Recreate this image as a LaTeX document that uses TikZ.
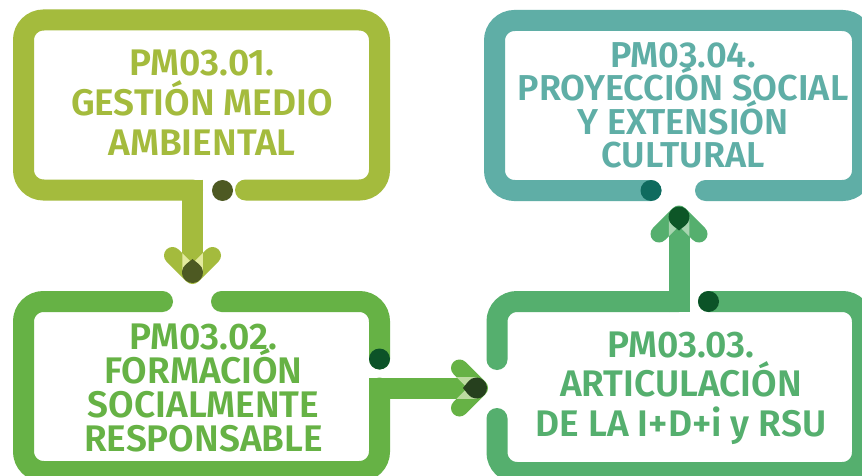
\documentclass[tikz,border=0pt]{standalone}
\usepackage{fontspec}
\setmainfont{Fira Sans}[BoldFont={Fira Sans SemiBold}]
\usetikzlibrary{calc}
\definecolor{cA}{HTML}{A4BB3D}
\definecolor{cAd}{HTML}{4D5922}
\definecolor{cAp}{HTML}{E3EA9E}
\definecolor{cB}{HTML}{66B245}
\definecolor{cBd}{HTML}{0C5328}
\definecolor{cBt}{HTML}{26401E}
\definecolor{cBp}{HTML}{BCDCA0}
\definecolor{cC}{HTML}{55AF6E}
\definecolor{cCd}{HTML}{0B5327}
\definecolor{cCt}{HTML}{0D5627}
\definecolor{cCp}{HTML}{A8D5B0}
\definecolor{cD}{HTML}{5FAEA6}
\definecolor{cDd}{HTML}{0F6B5F}
\tikzset{
  boxline/.style={line width=21pt, line cap=round, line join=miter, rounded corners=20pt},
  connline/.style={line width=21pt, line cap=butt},
  armline/.style={line width=17pt, line cap=round, line join=round},
  boxtext/.style 2 args={align=center, inner sep=0pt, font={\fontsize{#1}{#2}\selectfont\bfseries\lineskiplimit=-50pt}},
}
% #1 centre, #2 rotation, #3 arm colour, #4 pale colour, #5 tip colour
\newcommand{\chevarrow}[5]{%
  \begin{scope}[shift={#1}, rotate=#2]
    \draw[armline, #3] (-20,-17) -- (0,3) -- (20,-17);
    \begin{scope}
      \clip (-10.25,-40) rectangle (10.25,0);
      \draw[armline, #4] (-20,-17) -- (0,3) -- (20,-17);
    \end{scope}
    \fill[#5] (0,-13.5) -- (-51.1:10.5) arc[start angle=-51.1, end angle=231.1, radius=10.5] -- cycle;
  \end{scope}}
\begin{document}
\begin{tikzpicture}[x=1pt, y=1pt, yscale=-1]
\useasboundingbox (0,0) rectangle (862,476);
\clip (0,0) rectangle (862,476);
\fill[white] (0,0) rectangle (862,476);

% named points
\coordinate (t1) at (192.5,272.5);
\coordinate (t2) at (476.5,388);
\coordinate (t3) at (679,217);
\coordinate (e1) at (192.5,260.5);
\coordinate (e2) at (464.5,388);
\coordinate (e3) at (679,229);
\coordinate (s1) at (192.5,179.5);
\coordinate (s2) at (369,388);
\coordinate (s3) at (679,312);

% Box 1
\draw[boxline, cA] (245.5,190) -- (379.5,190) -- (379.5,20) -- (23.5,20) -- (23.5,190) -- (192.5,190);
\draw[connline, cA] (s1) -- (e1);
\fill[cAd] (222.5,190.5) circle (10.5);

% Box 2
\draw[boxline, cB] (221.5,301.5) -- (379.5,301.5) -- (379.5,359);
\draw[boxline, cB] (162.5,301.5) -- (23.5,301.5) -- (23.5,471.5) -- (379.5,471.5) -- (379.5,388);
\draw[connline, cB] (s2) -- (e2);
\fill[cBd] (379.5,359) circle (10.5);

% Box 3
\draw[boxline, cC] (497,359.5) -- (497,301.5) -- (679,301.5);
\draw[connline, cC] (s3) -- (e3);
\draw[boxline, cC] (708.5,301.5) -- (862.5,301.5) -- (862.5,472.5) -- (497,472.5) -- (497,418.5);
\fill[cCd] (708.5,301.5) circle (10.5);

% Box 4
\draw[boxline, cD] (651,190.5) -- (494.5,190.5) -- (494.5,20.5) -- (862.5,20.5) -- (862.5,190.5) -- (705.5,190.5);
\fill[cDd] (651,190.5) circle (10.5);

% Arrows
\chevarrow{(t1)}{0}{cA}{cAp}{cAd}
\chevarrow{(t2)}{-90}{cB}{cBp}{cBt}
\chevarrow{(t3)}{180}{cC}{cCp}{cCt}

% Texts
\node[boxtext={37}{40}, text=cA] (n1) at (202,102.5) {PM03.01.\\GESTIÓN MEDIO\\AMBIENTAL};
\node[boxtext={37}{34}, text=cB] (n2) at (203.5,387.5) {PM03.02.\\FORMACIÓN\\SOCIALMENTE\\RESPONSABLE};
\node[boxtext={37}{39.5}, text=cC] (n3) at (681,388) {PM03.03.\\ARTICULACIÓN\\DE LA I+D+i y RSU};
\node[boxtext={36}{33.5}, text=cD] (n4) at (683,105.5) {PM03.04.\\PROYECCIÓN SOCIAL\\Y EXTENSIÓN\\CULTURAL};
\end{tikzpicture}
\end{document}
